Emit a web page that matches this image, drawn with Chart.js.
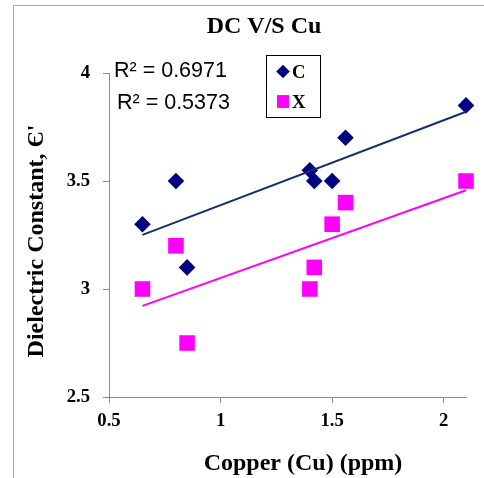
<!DOCTYPE html>
<html>
<head>
<meta charset="utf-8">
<script src="https://cdn.jsdelivr.net/npm/chart.js@4.4.1/dist/chart.umd.min.js"></script>
<style>
  html, body { margin: 0; padding: 0; background: #ffffff; }
  #chart { display: block; }
</style>
</head>
<body>
<canvas id="chart" width="484" height="478"></canvas>
<script>
// Dielectric constant against copper content for the two sample sets
const seriesNames = ['C', 'X'];
const copperC = [0.65, 0.8, 0.85, 1.4, 1.42, 1.5, 1.56, 2.1];
const dielectricC = [3.3, 3.5, 3.1, 3.55, 3.5, 3.5, 3.7, 3.85];
const copperX = [0.65, 0.8, 0.85, 1.4, 1.42, 1.5, 1.56, 2.1];
const dielectricX = [3.0, 3.2, 2.75, 3.0, 3.1, 3.3, 3.4, 3.5];
const xTicks = [0.5, 1, 1.5, 2];
const yTicks = [2.5, 3, 3.5, 4];
const rSquaredLabels = ['R² = 0.6971', 'R² = 0.5373'];
const chartTitle = 'DC V/S Cu';
const xTitle = 'Copper (Cu) (ppm)';
const yTitle = 'Dielectric Constant, Є\'';

const SERIF = '"Liberation Serif", "Times New Roman", serif';
const SANS = '"Liberation Sans", Arial, sans-serif';
const NAVY = '#000080';
const TREND_NAVY = '#12306a';
const MAGENTA = '#ff00ff';
const AXIS_GREY = '#8c8c8c';

function pairs(xs, ys) {
  return xs.map((x, i) => ({ x: x, y: ys[i] }));
}

// Least-squares straight line across the range of the series
function linearTrend(xs, ys) {
  const n = xs.length;
  const mx = xs.reduce((a, b) => a + b, 0) / n;
  const my = ys.reduce((a, b) => a + b, 0) / n;
  let sxy = 0, sxx = 0;
  for (let i = 0; i < n; i++) {
    sxy += (xs[i] - mx) * (ys[i] - my);
    sxx += (xs[i] - mx) * (xs[i] - mx);
  }
  const slope = sxy / sxx;
  const icept = my - slope * mx;
  const lo = Math.min(...xs), hi = Math.max(...xs);
  return [{ x: lo, y: icept + slope * lo }, { x: hi, y: icept + slope * hi }];
}

const decorations = {
  id: 'decorations',
  beforeDraw(chart) {
    const ctx = chart.ctx;
    ctx.save();
    ctx.fillStyle = '#ffffff';
    ctx.fillRect(0, 0, chart.width, chart.height);
    // outer frame (left and top edges)
    ctx.strokeStyle = '#a6a6a6';
    ctx.lineWidth = 1;
    ctx.beginPath();
    ctx.moveTo(13.5, chart.height);
    ctx.lineTo(13.5, 5.5);
    ctx.lineTo(chart.width, 5.5);
    ctx.stroke();
    ctx.restore();
  },
  afterDraw(chart) {
    const ctx = chart.ctx;
    ctx.save();
    ctx.fillStyle = '#000000';
    ctx.textBaseline = 'alphabetic';

    // chart title
    ctx.font = 'bold 24px ' + SERIF;
    ctx.textAlign = 'center';
    ctx.fillText(chartTitle, 264, 33);

    // x axis title
    ctx.fillText(xTitle, 303, 470);

    // y axis title, reading upwards
    ctx.save();
    ctx.translate(43, 241);
    ctx.rotate(-Math.PI / 2);
    ctx.fillText(yTitle, 0, 0);
    ctx.restore();

    // trendline fit labels
    ctx.font = '21.5px ' + SANS;
    ctx.textAlign = 'left';
    ctx.fillText(rSquaredLabels[0], 114, 77);
    ctx.fillText(rSquaredLabels[1], 117, 109);

    // legend box
    ctx.fillStyle = '#ffffff';
    ctx.fillRect(266, 55, 54, 62);
    ctx.strokeStyle = '#000000';
    ctx.lineWidth = 1;
    ctx.strokeRect(266.5, 55.5, 54, 62);

    const rows = [
      { ds: chart.data.datasets[0], y: 71.5, r: 6.8 },
      { ds: chart.data.datasets[1], y: 101.5, r: 8.5 }
    ];
    rows.forEach((row, i) => {
      Chart.helpers.drawPoint(ctx, {
        pointStyle: row.ds.pointStyle,
        radius: row.r,
        rotation: 0,
        borderWidth: 0
      }, 283, row.y);
      ctx.fillStyle = row.ds.backgroundColor;
      ctx.fill();
      ctx.fillStyle = '#000000';
      ctx.font = 'bold 18.7px ' + SERIF;
      ctx.textAlign = 'left';
      ctx.fillText(seriesNames[i], 292, row.y + 6.3);
    });
    ctx.restore();
  }
};

const tickFont = { family: SERIF, size: 18.7, weight: 'bold' };

new Chart(document.getElementById('chart'), {
  type: 'scatter',
  data: {
    datasets: [
      {
        label: seriesNames[0],
        data: pairs(copperC, dielectricC),
        pointStyle: 'rectRot',
        pointRadius: 8.3,
        backgroundColor: NAVY,
        borderColor: NAVY,
        borderWidth: 0,
        clip: false,
        order: 2
      },
      {
        label: seriesNames[1],
        data: pairs(copperX, dielectricX),
        pointStyle: 'rect',
        pointRadius: 11,
        backgroundColor: MAGENTA,
        borderColor: MAGENTA,
        borderWidth: 0,
        clip: false,
        order: 2
      },
      {
        label: 'Linear (' + seriesNames[0] + ')',
        data: linearTrend(copperC, dielectricC),
        showLine: true,
        pointRadius: 0,
        borderColor: TREND_NAVY,
        borderWidth: 2,
        fill: false,
        clip: false,
        order: 1
      },
      {
        label: 'Linear (' + seriesNames[1] + ')',
        data: linearTrend(copperX, dielectricX),
        showLine: true,
        pointRadius: 0,
        borderColor: MAGENTA,
        borderWidth: 2,
        fill: false,
        clip: false,
        order: 1
      }
    ]
  },
  options: {
    responsive: false,
    animation: false,
    devicePixelRatio: 1,
    events: [],
    layout: { padding: { left: 14, right: 18, top: 73, bottom: 0 } },
    plugins: {
      legend: { display: false },
      tooltip: { enabled: false },
      title: { display: false }
    },
    scales: {
      x: {
        type: 'linear',
        min: 0.5,
        max: 2.1,
        afterBuildTicks: (s) => { s.ticks = xTicks.map(v => ({ value: v })); },
        afterFit: (s) => { s.height = 81; },
        ticks: { font: tickFont, color: '#000000', padding: 7, maxRotation: 0, callback: (v) => String(v) },
        grid: { drawOnChartArea: false, drawTicks: true, tickLength: 6, color: AXIS_GREY },
        border: { color: AXIS_GREY, width: 1 }
      },
      y: {
        type: 'linear',
        min: 2.5,
        max: 4,
        afterBuildTicks: (s) => { s.ticks = yTicks.map(v => ({ value: v })); },
        afterFit: (s) => { s.width = 95; },
        ticks: { font: tickFont, color: '#000000', padding: 13, callback: (v) => String(v) },
        grid: { drawOnChartArea: false, drawTicks: true, tickLength: 6, color: AXIS_GREY },
        border: { color: AXIS_GREY, width: 1 }
      }
    }
  },
  plugins: [decorations]
});
</script>
</body>
</html>
